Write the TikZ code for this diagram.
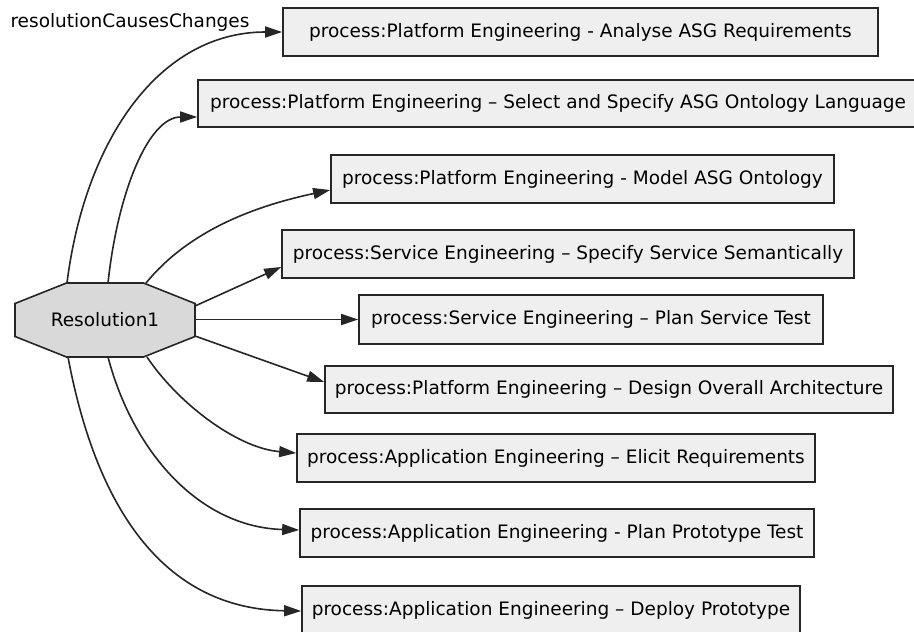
\documentclass[tikz,border=0pt]{standalone}
\usepackage{fontspec}
\setmainfont{DejaVu Sans}
\usetikzlibrary{arrows.meta,calc}
\definecolor{boxfill}{HTML}{EFEFEF}
\definecolor{octfill}{HTML}{D9D9D9}
\definecolor{edgecol}{HTML}{262626}
\tikzset{
  proc/.style={draw=edgecol, line width=1.7pt, fill=boxfill, inner sep=0pt,
    minimum height=#1, font=\fontsize{18.5}{22}\selectfont},
  proc/.default=48pt,
  link/.style={draw=edgecol, line width=1.6pt,
    -{Triangle[length=17pt,width=11pt]}},
  octo/.style={draw=edgecol, line width=1.6pt, fill=octfill},
}
\begin{document}
\begin{tikzpicture}[x=1pt,y=-1pt]
\useasboundingbox (0,0) rectangle (914,632);
\fill[white] (0,0) rectangle (914,632);

% central resolution node (octagon outline drawn around it)
\node[inner sep=0pt, minimum width=180pt, minimum height=74pt] (res) at (105,320) {};
\draw[octo] ($(res.center)+(-38.5,-37)$) -- ($(res.center)+(38.5,-37)$)
  -- ($(res.center)+(90,-16.5)$) -- ($(res.center)+(90,16.5)$)
  -- ($(res.center)+(38.5,37)$) -- ($(res.center)+(-38.5,37)$)
  -- ($(res.center)+(-90,16.5)$) -- ($(res.center)+(-90,-16.5)$) -- cycle;
\node[font=\fontsize{18.5}{22}\selectfont] at (res.center) {Resolution1};

% process nodes
\node[proc, minimum width=595pt] (b1) at (580.5,32) {process:Platform Engineering - Analyse ASG Requirements};
\node[proc=47pt, minimum width=720pt] (b2) at (558,103.5) {process:Platform Engineering – Select and Specify ASG Ontology Language};
\node[proc, minimum width=503pt] (b3) at (582.5,179) {process:Platform Engineering - Model ASG Ontology};
\node[proc, minimum width=572pt] (b4) at (568,254) {process:Service Engineering – Specify Service Semantically};
\node[proc=49pt, minimum width=464pt] (b5) at (591,319.5) {process:Service Engineering – Plan Service Test};
\node[proc=47pt, minimum width=568pt] (b6) at (609,389.5) {process:Platform Engineering – Design Overall Architecture};
\node[proc, minimum width=518pt] (b7) at (556,458) {process:Application Engineering – Elicit Requirements};
\node[proc, minimum width=514pt] (b8) at (557,533) {process:Application Engineering - Plan Prototype Test};
\node[proc, minimum width=498pt] (b9) at (551,610) {process:Application Engineering – Deploy Prototype};

% relation label
\node[font=\fontsize{18.5}{22}\selectfont, inner sep=0pt] (lbl) at (130,22) {resolutionCausesChanges};

% connectors
\draw[link] ($(res.center)+(-38,-37)$) .. controls +(18,-143) and +(-123,0) .. (b1.west);
\draw[link] ($(res.center)+(3,-37)$) .. controls +(10,-93) and +(-48,0) .. ($(b2.west)+(0,13.5)$);
\draw[link] ($(res.center)+(41,-37)$) .. controls +(45,-55) and +(-70,15) .. ($(b3.west)+(0,11)$);
\draw[link] ($(res.center)+(90,-14)$) -- ($(b4.west)+(0,13)$);
\draw[link] ($(res.center)+(90,-0.5)$) -- (b5.west);
\draw[link] ($(res.center)+(90,16)$) -- ($(b6.west)+(0,-7.5)$);
\draw[link] ($(res.center)+(42,37)$) .. controls +(30,45) and +(-60,-5) .. ($(b7.west)+(0,-5)$);
\draw[link] ($(res.center)+(3,37)$) .. controls +(25,95) and +(-100,-3) .. ($(b8.west)+(0,-3)$);
\draw[link] ($(res.center)+(-37,37)$) .. controls +(30,160) and +(-132,-2) .. ($(b9.west)+(0,1)$);
\end{tikzpicture}
\end{document}
